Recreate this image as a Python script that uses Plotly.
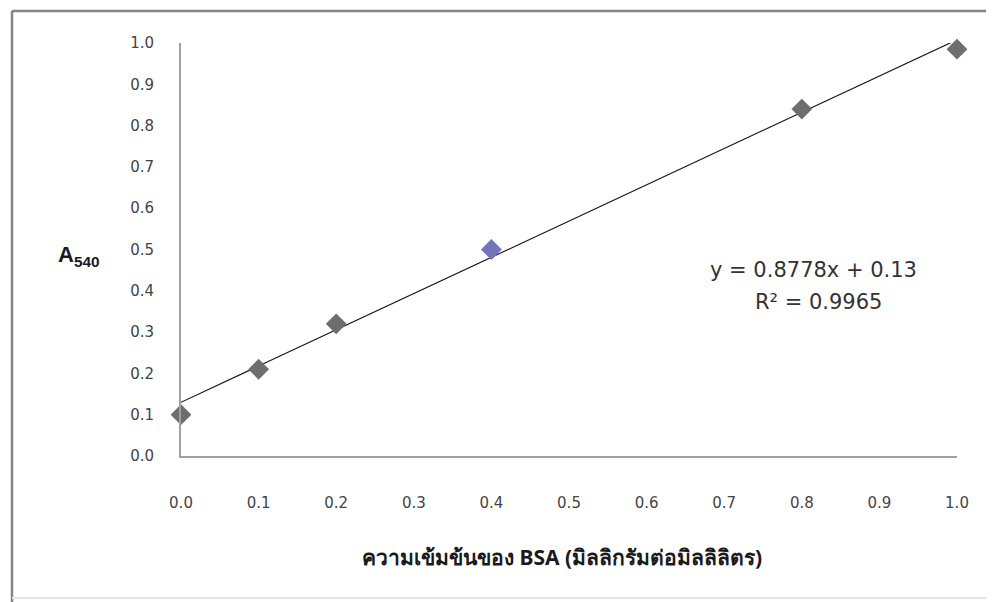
import plotly.graph_objects as go

# Data
bsa_conc = [0.0, 0.1, 0.2, 0.4, 0.8, 1.0]
absorbance = [0.10, 0.21, 0.32, 0.50, 0.84, 0.985]
marker_colors = ["#6e6e6e", "#6e6e6e", "#6e6e6e", "#7474bb", "#6e6e6e", "#6e6e6e"]
slope = 0.8778
intercept = 0.13
trend_x = [0.0, 1.0]
trend_y = [slope * x + intercept for x in trend_x]
tick_vals = [0.0, 0.1, 0.2, 0.3, 0.4, 0.5, 0.6, 0.7, 0.8, 0.9, 1.0]
tick_text = ["0.0", "0.1", "0.2", "0.3", "0.4", "0.5", "0.6", "0.7", "0.8", "0.9", "1.0"]
x_title = "ความเข้มข้นของ BSA (มิลลิกรัมต่อมิลลิลิตร)"
equation_line = "y = 0.8778x + 0.13"
r2_line = "R² = 0.9965"

# figure is drawn at page offset (8, 8); plot area spans screen x 181..957, y 43..456
L, R, T, B = 173, 45, 35, 154
PW = 994 - L - R
PH = 602 - T - B


def px(sx):
    return (sx - 8 - L) / PW


def py(sy):
    return (602 - B - (sy - 8)) / PH


fig = go.Figure()
fig.add_trace(go.Scatter(
    x=trend_x, y=trend_y, mode="lines",
    line=dict(color="#1a1a1a", width=1.2),
    showlegend=False, hoverinfo="skip",
))
fig.add_trace(go.Scatter(
    x=bsa_conc, y=absorbance, mode="markers",
    marker=dict(symbol="diamond", size=16, color=marker_colors, line=dict(width=0)),
    showlegend=False, cliponaxis=False,
))

tickfont = dict(family="DejaVu Sans, sans-serif", size=15, color="#444444")

fig.update_layout(
    width=994, height=602,
    margin=dict(l=L, r=R, t=T, b=B),
    paper_bgcolor="white", plot_bgcolor="white",
    xaxis=dict(
        range=[0, 1], tickvals=tick_vals, ticktext=tick_text,
        showgrid=False, zeroline=False,
        showline=True, linecolor="#a0a0a0", linewidth=2,
        ticks="outside", ticklen=32, tickcolor="rgba(0,0,0,0)",
        tickfont=tickfont,
    ),
    yaxis=dict(
        range=[0, 1], tickvals=tick_vals, ticktext=tick_text,
        showgrid=False, zeroline=False,
        showline=True, linecolor="#a0a0a0", linewidth=2,
        ticks="outside", ticklen=22, tickcolor="rgba(0,0,0,0)",
        tickfont=tickfont,
    ),
    shapes=[
        dict(type="line", xref="paper", yref="paper",
             x0=px(12), x1=px(12), y0=py(602), y1=py(11),
             line=dict(color="#858585", width=2.5), layer="below"),
        dict(type="line", xref="paper", yref="paper",
             x0=px(12), x1=px(1002), y0=py(11), y1=py(11),
             line=dict(color="#858585", width=2.5), layer="below"),
        dict(type="line", xref="paper", yref="paper",
             x0=px(12), x1=px(1002), y0=py(598), y1=py(598),
             line=dict(color="#e4e4e4", width=2), layer="below"),
    ],
    annotations=[
        dict(text=equation_line, xref="paper", yref="paper",
             x=px(813), y=py(270), xanchor="center", yanchor="middle",
             showarrow=False,
             font=dict(family="DejaVu Sans, sans-serif", size=21, color="#333333")),
        dict(text=r2_line, xref="paper", yref="paper",
             x=px(818), y=py(302), xanchor="center", yanchor="middle",
             showarrow=False,
             font=dict(family="DejaVu Sans, sans-serif", size=21, color="#333333")),
        dict(text="<b>A</b><sub><b>540</b></sub>", xref="paper", yref="paper",
             x=px(79), y=py(256), xanchor="center", yanchor="middle",
             showarrow=False,
             font=dict(family="Liberation Sans, Arial, sans-serif", size=22, color="#1a1a1a")),
        dict(text="<b>" + x_title + "</b>", xref="paper", yref="paper",
             x=px(562), y=py(557), xanchor="center", yanchor="middle",
             showarrow=False,
             font=dict(family="Noto Sans, Liberation Sans, sans-serif", size=21, color="#1a1a1a")),
    ],
)

fig.write_html("out.html")
